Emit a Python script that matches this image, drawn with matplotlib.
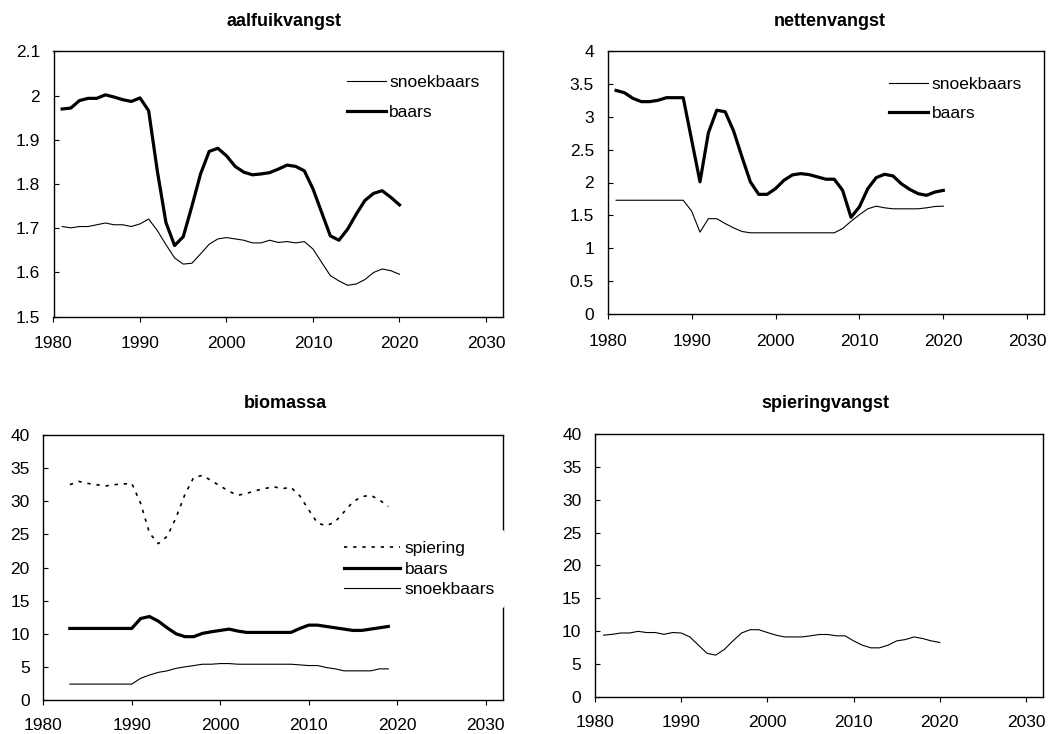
import matplotlib
matplotlib.use('Agg')
import matplotlib.pyplot as plt
from matplotlib.ticker import FixedLocator, FuncFormatter

plt.rcParams['font.family'] = ['Liberation Sans', 'DejaVu Sans']

# ---------------- data ----------------
years_a = list(range(1981, 2021))
aal_snoekbaars = [1.704, 1.701, 1.704, 1.704, 1.708, 1.712, 1.708, 1.708, 1.704, 1.710,
                  1.721, 1.695, 1.663, 1.633, 1.619, 1.621, 1.642, 1.664, 1.676, 1.679,
                  1.676, 1.673, 1.667, 1.667, 1.673, 1.668, 1.670, 1.667, 1.670, 1.653,
                  1.623, 1.593, 1.581, 1.571, 1.574, 1.584, 1.600, 1.608, 1.604, 1.596]
aal_baars = [1.970, 1.972, 1.989, 1.994, 1.994, 2.002, 1.997, 1.991, 1.987, 1.995,
             1.966, 1.830, 1.713, 1.661, 1.681, 1.750, 1.823, 1.874, 1.881, 1.864,
             1.840, 1.827, 1.821, 1.823, 1.826, 1.834, 1.843, 1.840, 1.830, 1.789,
             1.736, 1.683, 1.673, 1.698, 1.732, 1.763, 1.779, 1.785, 1.770, 1.753]

net_snoekbaars = [1.73, 1.73, 1.73, 1.73, 1.73, 1.73, 1.73, 1.73, 1.73, 1.565,
                  1.245, 1.45, 1.45, 1.375, 1.31, 1.255, 1.235, 1.235, 1.235, 1.235,
                  1.235, 1.235, 1.235, 1.235, 1.235, 1.235, 1.235, 1.30, 1.41, 1.51,
                  1.60, 1.64, 1.615, 1.60, 1.60, 1.60, 1.60, 1.615, 1.635, 1.64]
net_baars = [3.40, 3.365, 3.28, 3.23, 3.23, 3.25, 3.29, 3.29, 3.29, 2.65,
             2.01, 2.755, 3.10, 3.075, 2.785, 2.39, 2.01, 1.82, 1.82, 1.906,
             2.033, 2.115, 2.135, 2.12, 2.085, 2.05, 2.05, 1.88, 1.47, 1.63,
             1.906, 2.074, 2.125, 2.10, 1.98, 1.895, 1.83, 1.805, 1.855, 1.88]

years_b = list(range(1983, 2020))
bio_spiering = [32.5, 33.0, 32.7, 32.5, 32.3, 32.5, 32.6, 32.7,
                29.7, 25.2, 23.6, 24.7, 27.5, 31.0, 33.6, 33.9, 33.1, 32.3,
                31.5, 30.9, 31.2, 31.6, 31.9, 32.2, 31.9, 32.1, 30.8, 28.7,
                26.7, 26.3, 26.9, 28.4, 29.9, 30.7, 30.9, 30.2, 29.2]
bio_baars = [10.8, 10.8, 10.8, 10.8, 10.8, 10.8, 10.8, 10.8,
             12.3, 12.6, 11.9, 10.9, 10.0, 9.56, 9.56, 10.06, 10.3, 10.5,
             10.7, 10.4, 10.2, 10.2, 10.2, 10.2, 10.2, 10.2, 10.8, 11.3,
             11.3, 11.1, 10.9, 10.7, 10.5, 10.5, 10.7, 10.9, 11.1]
bio_snoekbaars = [2.4, 2.4, 2.4, 2.4, 2.4, 2.4, 2.4, 2.4,
                  3.27, 3.77, 4.17, 4.4, 4.78, 5.0, 5.2, 5.4, 5.4, 5.5,
                  5.5, 5.4, 5.4, 5.4, 5.4, 5.4, 5.4, 5.4, 5.3, 5.2,
                  5.2, 4.9, 4.7, 4.4, 4.4, 4.4, 4.4, 4.7, 4.7]

spier_vangst = [9.37, 9.5, 9.7, 9.7, 9.95, 9.77, 9.77, 9.5, 9.77, 9.7,
                9.1, 7.85, 6.6, 6.33, 7.2, 8.5, 9.7, 10.2, 10.2, 9.77,
                9.37, 9.1, 9.1, 9.1, 9.27, 9.47, 9.47, 9.27, 9.27, 8.5,
                7.85, 7.44, 7.44, 7.85, 8.5, 8.7, 9.1, 8.86, 8.5, 8.25]

titles = ['aalfuikvangst', 'nettenvangst', 'biomassa', 'spieringvangst']
x_ticks = [1980, 1990, 2000, 2010, 2020, 2030]
y_ticks_aal = [1.5, 1.6, 1.7, 1.8, 1.9, 2.0, 2.1]
y_ticks_net = [0, 0.5, 1, 1.5, 2, 2.5, 3, 3.5, 4]
y_ticks_40 = [0, 5, 10, 15, 20, 25, 30, 35, 40]

# ---------------- layout ----------------
W, H = 1061, 734
fig = plt.figure(figsize=(W / 100, H / 100), dpi=100)
fig.patch.set_facecolor('white')

FS = 12.5
THICK = 2.3
THIN = 0.8


def px_axes(l, t, r, b):
    return fig.add_axes([l / W, 1 - b / H, (r - l) / W, (b - t) / H])


def style(ax, yticks, ylim, xpad=10.5):
    ax.set_xlim(1980, 2032)
    ax.set_ylim(*ylim)
    ax.xaxis.set_major_locator(FixedLocator(x_ticks))
    ax.yaxis.set_major_locator(FixedLocator(yticks))
    ax.yaxis.set_major_formatter(FuncFormatter(lambda v, p: f"{round(v, 3):g}"))
    ax.tick_params(axis='x', direction='out', length=3.6, width=0.8, pad=xpad,
                   labelsize=FS)
    ax.tick_params(axis='y', direction='in', length=3.6, width=0.8, pad=9.8,
                   labelsize=FS)
    for s in ax.spines.values():
        s.set_linewidth(1.0)
        s.set_color('black')


def title(x, y, text):
    fig.text(x / W, 1 - y / H, text, ha='center', va='center',
             fontsize=13, fontweight='bold')


def legend(ax, handles, labels, cx, cy, hl, hp, ls, bp=0.0, frame=False):
    leg = ax.legend(handles, labels, loc='center left',
                    bbox_to_anchor=(cx / W, 1 - cy / H),
                    bbox_transform=fig.transFigure,
                    frameon=frame, fontsize=FS, handlelength=hl,
                    handletextpad=hp, labelspacing=ls, borderpad=bp,
                    borderaxespad=0)
    if frame:
        leg.get_frame().set_facecolor('white')
        leg.get_frame().set_edgecolor('none')
        leg.get_frame().set_alpha(1.0)
        leg.set_zorder(10)
    return leg


# Panel 1
ax1 = px_axes(53.5, 51.5, 503.3, 316.7)
l1, = ax1.plot(years_a, aal_snoekbaars, color='black', lw=THIN)
l2, = ax1.plot(years_a, aal_baars, color='black', lw=THICK)
style(ax1, y_ticks_aal, (1.5, 2.1))
legend(ax1, [l1, l2], ['snoekbaars', 'baars'], 346.6, 97.5, 2.25, 0.2, 0.82)
title(284, 21.3, titles[0])

# Panel 2
ax2 = px_axes(607.7, 51.0, 1044, 314)
m1, = ax2.plot(years_a, net_snoekbaars, color='black', lw=THIN)
m2, = ax2.plot(years_a, net_baars, color='black', lw=THICK)
style(ax2, y_ticks_net, (0, 4))
legend(ax2, [m1, m2], ['snoekbaars', 'baars'], 889.4, 99.0, 2.25, 0.2, 0.82)
title(830, 21.3, titles[1])

# Panel 3
ax3 = px_axes(43.3, 435, 503.3, 700)
b1, = ax3.plot(years_b, bio_spiering, color='black', lw=1.2,
               linestyle=(0, (2.0, 3.5)))
b2, = ax3.plot(years_b, bio_baars, color='black', lw=THICK)
b3, = ax3.plot(years_b, bio_snoekbaars, color='black', lw=THIN)
style(ax3, y_ticks_40, (0, 40), xpad=9.5)
bp = 0.6
legend(ax3, [b1, b2, b3], ['spiering', 'baars', 'snoekbaars'],
       344 - bp * FS * 100 / 72, 569.0, 3.2, 0.29, 0.33, bp=bp, frame=True)
title(285.8, 404.0, titles[2])

# Panel 4
ax4 = px_axes(595, 434, 1043.3, 696.7)
ax4.plot(years_a, spier_vangst, color='black', lw=THIN)
style(ax4, y_ticks_40, (0, 40), xpad=9.5)
title(825.5, 403.8, titles[3])

fig.savefig('out.png', dpi=100, facecolor='white')
